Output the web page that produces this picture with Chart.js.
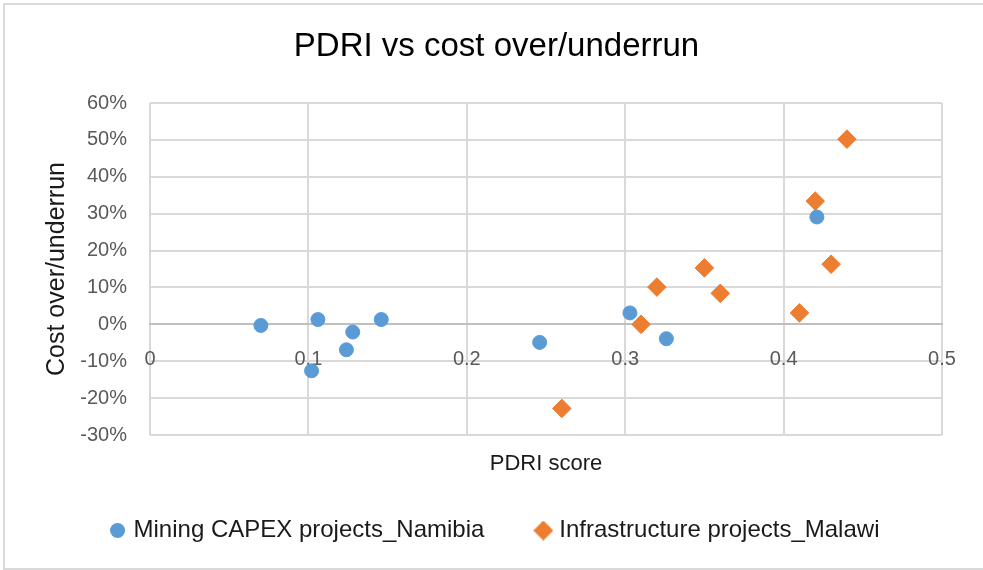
<!DOCTYPE html>
<html>
<head>
<meta charset="utf-8">
<script src="https://cdn.jsdelivr.net/npm/chart.js@4.4.1/dist/chart.umd.min.js"></script>
<style>
  html, body { margin: 0; padding: 0; background: #fff; }
  #frame {
    position: absolute; left: 3px; top: 3px; width: 990px; height: 567px;
    box-sizing: border-box; border: 2px solid #D9D9D9;
  }
  #wrap { position: absolute; left: 0; top: 0; width: 983px; height: 570px; }
</style>
</head>
<body>
<div id="frame"></div>
<div id="wrap"><canvas id="chart"></canvas></div>
<script>
// PDRI score (x) and cost over/underrun (y, as a fraction)
const namibiaX = [0.07, 0.106, 0.102, 0.128, 0.124, 0.146, 0.246, 0.303, 0.326, 0.421];
const namibiaY = [-0.003, 0.013, -0.126, -0.021, -0.069, 0.013, -0.049, 0.031, -0.039, 0.291];
const malawiX = [0.26, 0.31, 0.32, 0.35, 0.36, 0.41, 0.42, 0.43, 0.44];
const malawiY = [-0.228, 0.0, 0.101, 0.153, 0.084, 0.031, 0.334, 0.163, 0.502];

const seriesNames = ['Mining CAPEX projects_Namibia', 'Infrastructure projects_Malawi'];
const xTicks = [0, 0.1, 0.2, 0.3, 0.4, 0.5];
const yTicks = [-0.3, -0.2, -0.1, 0, 0.1, 0.2, 0.3, 0.4, 0.5, 0.6];

const BLUE = '#5B9BD5';
const ORANGE = '#ED7D31';
const GRID = '#D9D9D9';

Chart.defaults.font.family = '"Liberation Sans", Arial, sans-serif';

const toPoints = (xs, ys) => xs.map((x, i) => ({ x, y: ys[i] }));

// small canvases so the two legend markers can differ in size like Excel's
function marker(shape, color, size) {
  const c = document.createElement('canvas');
  c.width = c.height = size;
  const g = c.getContext('2d');
  g.fillStyle = color;
  g.beginPath();
  if (shape === 'circle') {
    g.arc(size / 2, size / 2, size / 2, 0, Math.PI * 2);
  } else {
    g.moveTo(size / 2, 0);
    g.lineTo(size, size / 2);
    g.lineTo(size / 2, size);
    g.lineTo(0, size / 2);
    g.closePath();
  }
  g.fill();
  return c;
}
const legendMarkers = [marker('circle', BLUE, 15), marker('diamond', ORANGE, 20)];

new Chart(document.getElementById('chart'), {
  type: 'scatter',
  data: {
    datasets: [
      {
        label: seriesNames[0],
        data: toPoints(namibiaX, namibiaY),
        pointStyle: 'circle',
        pointRadius: 7,
        borderWidth: 1,
        backgroundColor: BLUE,
        borderColor: BLUE,
      },
      {
        label: seriesNames[1],
        data: toPoints(malawiX, malawiY),
        pointStyle: 'rectRot',
        pointRadius: 9.3,
        borderWidth: 1,
        backgroundColor: ORANGE,
        borderColor: ORANGE,
      },
    ],
  },
  options: {
    responsive: true,
    maintainAspectRatio: false,
    animation: false,
    layout: { padding: { left: 10, right: 0, top: 0, bottom: 17.5 } },
    plugins: {
      tooltip: { enabled: false },
      title: {
        display: true,
        text: 'PDRI vs cost over/underrun',
        color: '#000',
        font: { size: 33, weight: 'normal' },
        padding: { top: 27.2, bottom: 36.2 },
      },
      legend: {
        position: 'bottom',
        labels: {
          usePointStyle: true,
          boxWidth: 8,
          boxHeight: 8,
          padding: 55,
          color: '#1a1a1a',
          font: { size: 24 },
          generateLabels: chart => {
            const items = Chart.defaults.plugins.legend.labels.generateLabels(chart);
            items.forEach((it, i) => { it.pointStyle = legendMarkers[i]; });
            return items;
          },
        },
      },
    },
    scales: {
      x: {
        type: 'linear',
        position: { y: 0 },
        min: 0,
        max: 0.5,
        afterBuildTicks: s => { s.ticks = xTicks.map(v => ({ value: v })); },
        ticks: {
          color: '#595959',
          font: { size: 20 },
          padding: 23,
          maxRotation: 0,
          callback: v => String(+v.toFixed(1)),
        },
        grid: { color: GRID, lineWidth: 2, drawTicks: false },
        border: { color: '#BFBFBF', width: 2 },
      },
      xTitle: {
        type: 'linear',
        position: 'bottom',
        min: 0,
        max: 0.5,
        ticks: { display: false },
        grid: { display: false },
        border: { display: false },
        title: {
          display: true,
          text: 'PDRI score',
          color: '#1a1a1a',
          font: { size: 22 },
          padding: { top: 0, bottom: -13.7 },
        },
        afterFit: s => { s.height = 28.5; },
      },
      y: {
        type: 'linear',
        position: 'left',
        min: -0.3,
        max: 0.6,
        afterBuildTicks: s => { s.ticks = yTicks.map(v => ({ value: v })); },
        ticks: {
          color: '#595959',
          font: { size: 20 },
          padding: 23,
          callback: v => Math.round(v * 100) + '%',
        },
        grid: { color: GRID, lineWidth: 2, drawTicks: false },
        border: { display: false },
        title: {
          display: true,
          text: 'Cost over/underrun',
          color: '#1a1a1a',
          font: { size: 25 },
          padding: { top: 32.5, bottom: 0 },
        },
        afterFit: s => { s.width = 140; },
      },
      yRight: {
        type: 'linear',
        position: 'right',
        ticks: { display: false },
        grid: { display: false },
        border: { display: false },
        afterFit: s => { s.width = 41; },
      },
    },
  },
});
</script>
</body>
</html>
